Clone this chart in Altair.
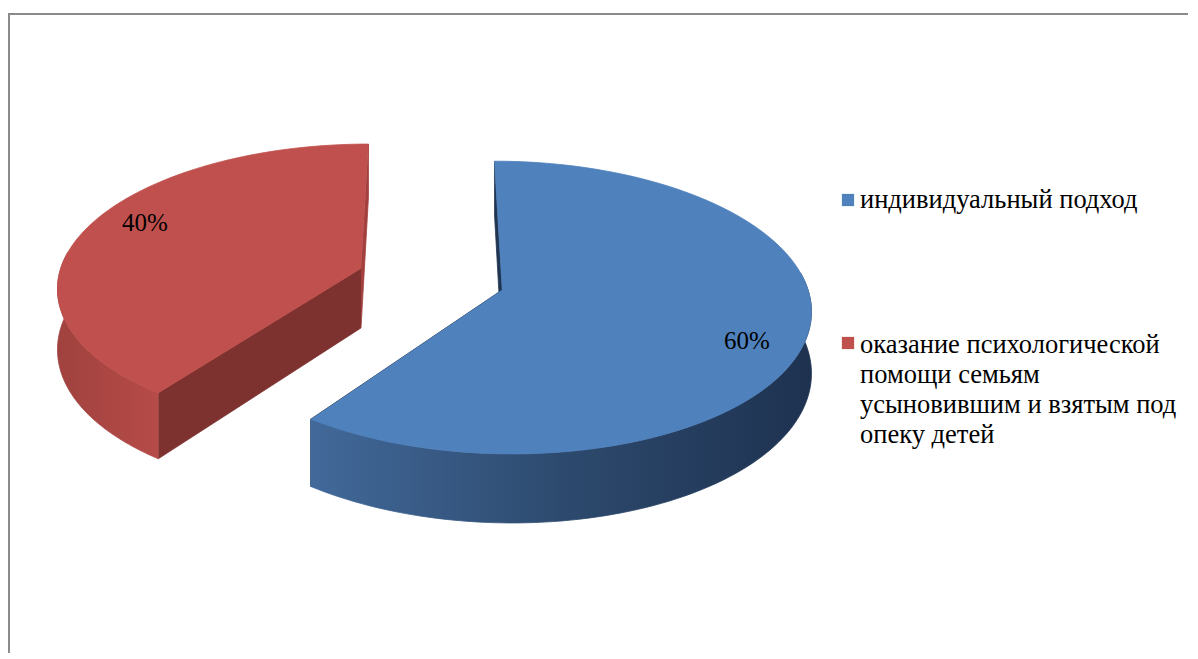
import altair as alt
import pandas as pd

# ---- data ----
categories = [
    "индивидуальный подход",
    "оказание психологической помощи семьям усыновившим и взятым под опеку детей",
]
shares = [60, 40]
legend_labels = [
    "индивидуальный подход",
    "оказание психологической\nпомощи семьям\nусыновившим и взятым под\nопеку детей",
]

# ---- styling ----
FONT = "Liberation Serif"
top_colors = ["#4F81BD", "#C0504D"]
wall_keys = [categories[0] + "|0", categories[0] + "|1", categories[1] + "|0", categories[1] + "|1"]
wall_colors = ["#1F3552", "#1F3552", "#7E3230", "#A3403D"]

df = pd.DataFrame({"category": categories, "value": shares, "legend": legend_labels})

N = 90          # arc resolution
E = 0.245       # explosion distance (radius units)
K = 0.12        # perspective strength
TILT = 0.4665   # vertical squash of the tilted pie
HH = 0.198      # thickness of the pie
LAB_R = 0.83
LAB_SHIFT = 0.105

W, H = 1180, 645
xs = alt.Scale(domain=[-1.3960, 2.4984], nice=False, zero=False)
ys = alt.Scale(domain=[-0.8926, 1.2319], nice=False, zero=False, reverse=True)
fill_scale = alt.Scale(domain=categories, range=top_colors)
wall_scale = alt.Scale(domain=wall_keys, range=wall_colors)

base = alt.Chart(df)


def geom(ch):
    return (
        ch.transform_joinaggregate(total="sum(value)")
        .transform_window(cum="sum(value)", frame=[None, 0])
        .transform_calculate(
            a0="2*PI*(datum.cum-datum.value)/datum.total",
            a1="2*PI*datum.cum/datum.total",
        )
        .transform_calculate(mid="(datum.a0+datum.a1)/2")
        .transform_calculate(cxu=f"{E}*sin(datum.mid)", czu=f"{E}*cos(datum.mid)")
    )


def project(ch):
    return (
        ch.transform_calculate(X="datum.cxu+datum.r*sin(datum.t)", Z="datum.czu+datum.r*cos(datum.t)")
        .transform_calculate(s=f"1/(1+{K}*datum.Z)")
        .transform_calculate(px="datum.X*datum.s", py=f"-datum.Z*datum.s*{TILT}+datum.bot*{HH}*datum.s")
    )


X_ENC = alt.X("px:Q", scale=xs, axis=None)
Y_ENC = alt.Y("py:Q", scale=ys, axis=None)

# radial walls
walls = project(
    geom(base)
    .transform_calculate(steps="sequence(0, 8)")
    .transform_flatten(["steps"], as_=["i"])
    .transform_calculate(w="floor(datum.i/4)", k="datum.i%4")
    .transform_calculate(
        t="datum.w==0?datum.a0:datum.a1",
        r="(datum.k==1||datum.k==2)?1:0",
        bot="datum.k>=2?1:0",
        wkey="datum.category+'|'+datum.w",
    )
).mark_line(strokeWidth=0.8).encode(
    x=X_ENC, y=Y_ENC, order="i:Q", detail="wkey:N",
    fill=alt.Fill("wkey:N", scale=wall_scale, legend=None),
    stroke=alt.Stroke("wkey:N", scale=wall_scale, legend=None),
)


def outer(cat, stops):
    grad = alt.LinearGradient(
        gradient="linear",
        stops=[alt.GradientStop(color=c, offset=o) for o, c in stops],
        x1=0, x2=1, y1=0, y2=0,
    )
    return project(
        geom(base)
        .transform_filter(alt.datum.category == cat)
        .transform_calculate(b0="max(datum.a0, PI/2-0.12)", b1="min(datum.a1, 3*PI/2+0.12)")
        .transform_filter("datum.b1 > datum.b0")
        .transform_calculate(steps=f"sequence(0, {2 * N + 2})")
        .transform_flatten(["steps"], as_=["i"])
        .transform_calculate(
            j=f"datum.i<={N}?datum.i:{2 * N + 1}-datum.i",
            bot=f"datum.i>{N}?1:0",
            r="1",
        )
        .transform_calculate(t=f"datum.b0+(datum.b1-datum.b0)*datum.j/{N}")
    ).mark_line(fill=grad, stroke=grad, strokeWidth=0.8).encode(
        x=X_ENC, y=Y_ENC, order="i:Q"
    )


outer_blue = outer(categories[0], [(0, "#42699A"), (0.5, "#2D4A6E"), (1, "#1E3250")])
outer_red = outer(categories[1], [(0, "#A0423F"), (1, "#B64B48")])

tops = project(
    geom(base)
    .transform_calculate(steps=f"sequence(-1, {N + 1})")
    .transform_flatten(["steps"], as_=["i"])
    .transform_calculate(
        t=f"datum.a0+(datum.a1-datum.a0)*max(datum.i,0)/{N}",
        r="datum.i<0?0:1",
        bot="0",
    )
).mark_line(strokeWidth=0.8).encode(
    x=X_ENC, y=Y_ENC, order="i:Q", detail="category:N",
    fill=alt.Fill("category:N", scale=fill_scale, legend=None),
    stroke=alt.Stroke("category:N", scale=fill_scale, legend=None),
)

labels = project(
    geom(base).transform_calculate(
        t=f"datum.mid+{LAB_SHIFT}", r=f"{LAB_R}", bot="0",
        label="format(datum.value/datum.total, '.0%')",
    )
).mark_text(font=FONT, fontSize=25, color="#000000").encode(
    x=X_ENC, y=Y_ENC, text="label:N"
)

# legend (drawn by hand to match the wrapped layout)
legend_layers = []
for idx, (sy, ty) in enumerate([(192, 200), (335, 345)]):
    sub = base.transform_filter(alt.datum.category == categories[idx])
    legend_layers.append(
        sub.mark_square(size=150, opacity=1, filled=True).encode(
            x=alt.value(840), y=alt.value(sy),
            fill=alt.Fill("category:N", scale=fill_scale, legend=None),
        )
    )
    legend_layers.append(
        sub.mark_text(
            align="left", baseline="alphabetic", font=FONT,
            fontSize=26.5, lineHeight=30, lineBreak="\n", color="#000000",
        ).encode(x=alt.value(852), y=alt.value(ty), text="legend:N")
    )

frame_top = base.mark_rule(color="#8A8A8A", strokeWidth=2).encode(
    x=alt.value(0), x2=alt.value(W), y=alt.value(6)
)
frame_left = base.mark_rule(color="#8A8A8A", strokeWidth=2).encode(
    x=alt.value(1), y=alt.value(6), y2=alt.value(H)
)

chart = alt.layer(
    frame_top, frame_left, walls, outer_blue, outer_red, tops, labels, *legend_layers
).resolve_scale(
    fill="independent", stroke="independent"
).properties(
    width=W, height=H, autosize=alt.AutoSizeParams(type="none"), padding=0
).configure_view(stroke=None)

chart.save("out.html", embed_options={"renderer": "svg", "actions": False})
